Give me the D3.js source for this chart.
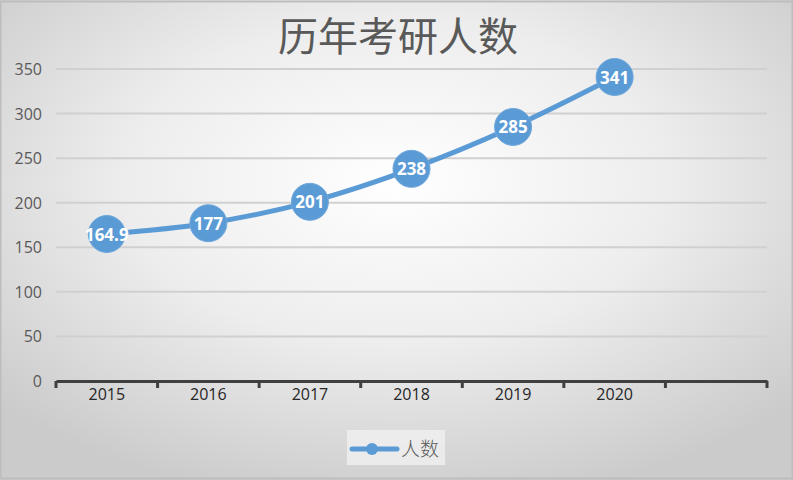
<!DOCTYPE html>
<html>
<head>
<meta charset="utf-8">
<script src="https://cdn.jsdelivr.net/npm/d3@7"></script>
<style>
  body { margin: 0; overflow: hidden; }
  svg { display: block; }
</style>
</head>
<body>
<div id="chart"></div>
<script>
const years = ['2015', '2016', '2017', '2018', '2019', '2020'];
const values = [164.9, 177, 201, 238, 285, 341];
const valueLabels = ['164.9', '177', '201', '238', '285', '341'];
const yTicks = [0, 50, 100, 150, 200, 250, 300, 350];
const seriesName = '人数';
const title = '历年考研人数';

const dims = { width: 793, height: 480 };
const margin = { left: 56, right: 26, top: 69, bottom: 99 };
const blue = '#5b9bd5';

const svg = d3.select('#chart')
    .append('svg')
    .attr('width', dims.width)
    .attr('height', dims.height);

// background gradient
const defs = svg.append('defs');
const grad = defs.append('radialGradient')
    .attr('id', 'bg')
    .attr('cx', '50%').attr('cy', '38%').attr('r', '68%');
grad.append('stop').attr('offset', '0%').attr('stop-color', '#ffffff');
grad.append('stop').attr('offset', '50%').attr('stop-color', '#ededed');
grad.append('stop').attr('offset', '100%').attr('stop-color', '#cbcbcb');

svg.append('rect')
    .attr('width', dims.width)
    .attr('height', dims.height)
    .attr('fill', 'url(#bg)');

svg.append('rect')
    .attr('x', 0.5).attr('y', 1.5)
    .attr('width', dims.width - 1).attr('height', dims.height - 3)
    .attr('fill', 'none')
    .attr('stroke', '#bdbdbd')
    .attr('stroke-width', 2);

// title
svg.append('text')
    .attr('x', 398)
    .attr('y', 51)
    .attr('text-anchor', 'middle')
    .attr('font-family', '"Noto Sans CJK SC", sans-serif')
    .attr('font-size', 40)
    .attr('fill', '#595959')
    .text(title);

// scales: one extra empty band after the last year
const bandDomain = years.concat(['']);
const x = d3.scaleBand()
    .domain(bandDomain)
    .range([margin.left, dims.width - margin.right]);

const y = d3.scaleLinear()
    .domain([0, 350])
    .range([dims.height - margin.bottom, margin.top]);

const graph = svg.append('g');

// gridlines
graph.selectAll('.grid')
    .data(yTicks.filter(d => d > 0))
    .enter()
    .append('line')
    .attr('class', 'grid')
    .attr('x1', margin.left)
    .attr('x2', dims.width - margin.right)
    .attr('y1', d => y(d))
    .attr('y2', d => y(d))
    .attr('stroke', '#d0d0d0')
    .attr('stroke-width', 2);

// y axis labels
graph.selectAll('.ylab')
    .data(yTicks)
    .enter()
    .append('text')
    .attr('class', 'ylab')
    .attr('x', 42)
    .attr('y', d => y(d) + 6)
    .attr('text-anchor', 'end')
    .attr('font-family', '"Open Sans", sans-serif')
    .attr('font-size', 16)
    .attr('fill', '#595959')
    .text(d => d);

// x axis
const xAxis = d3.axisBottom(x)
    .tickValues([])
    .tickSizeOuter(0);

const axisG = graph.append('g')
    .attr('transform', `translate(0,${y(0)})`)
    .call(xAxis);
axisG.select('.domain')
    .attr('stroke', '#404040')
    .attr('stroke-width', 3);

const edges = bandDomain.map(d => x(d)).concat([dims.width - margin.right]);
axisG.selectAll('.tk')
    .data(edges)
    .enter()
    .append('line')
    .attr('class', 'tk')
    .attr('x1', d => d)
    .attr('x2', d => d)
    .attr('y1', 0)
    .attr('y2', 7)
    .attr('stroke', '#404040')
    .attr('stroke-width', 3);

axisG.selectAll('.xlab')
    .data(years)
    .enter()
    .append('text')
    .attr('class', 'xlab')
    .attr('x', d => x(d) + x.bandwidth() / 2)
    .attr('y', 19)
    .attr('text-anchor', 'middle')
    .attr('font-family', '"Open Sans", sans-serif')
    .attr('font-size', 16)
    .attr('fill', '#262626')
    .text(d => d);

// line
const pts = years.map((d, i) => ({ year: d, value: values[i], label: valueLabels[i] }));

const line = d3.line()
    .x(d => x(d.year) + x.bandwidth() / 2)
    .y(d => y(d.value))
    .curve(d3.curveMonotoneX);

graph.append('path')
    .datum(pts)
    .attr('d', line)
    .attr('fill', 'none')
    .attr('stroke', blue)
    .attr('stroke-width', 5)
    .attr('stroke-linecap', 'round');

const nodes = graph.selectAll('.node')
    .data(pts)
    .enter()
    .append('g')
    .attr('class', 'node')
    .attr('transform', d => `translate(${x(d.year) + x.bandwidth() / 2},${y(d.value)})`);

nodes.append('circle')
    .attr('r', 18.5)
    .attr('fill', blue)
    .attr('stroke', '#6fa8dc')
    .attr('stroke-width', 1);

nodes.append('text')
    .attr('y', 6.5)
    .attr('text-anchor', 'middle')
    .attr('font-family', '"Open Sans", sans-serif')
    .attr('font-weight', 'bold')
    .attr('font-size', 17)
    .attr('fill', '#ffffff')
    .text(d => d.label);

// legend
const legend = svg.append('g')
    .attr('transform', 'translate(347,430)');

legend.append('rect')
    .attr('width', 98)
    .attr('height', 35)
    .attr('fill', '#f0f0f0')
    .attr('opacity', 0.8);

legend.append('line')
    .attr('x1', 5).attr('x2', 50)
    .attr('y1', 19).attr('y2', 19)
    .attr('stroke', blue)
    .attr('stroke-width', 5)
    .attr('stroke-linecap', 'round');

legend.append('circle')
    .attr('cx', 25).attr('cy', 19)
    .attr('r', 6)
    .attr('fill', blue);

legend.append('text')
    .attr('x', 54)
    .attr('y', 26)
    .attr('font-family', '"Noto Sans CJK SC", sans-serif')
    .attr('font-weight', 300)
    .attr('font-size', 19)
    .attr('fill', '#595959')
    .text(seriesName);
</script>
</body>
</html>
